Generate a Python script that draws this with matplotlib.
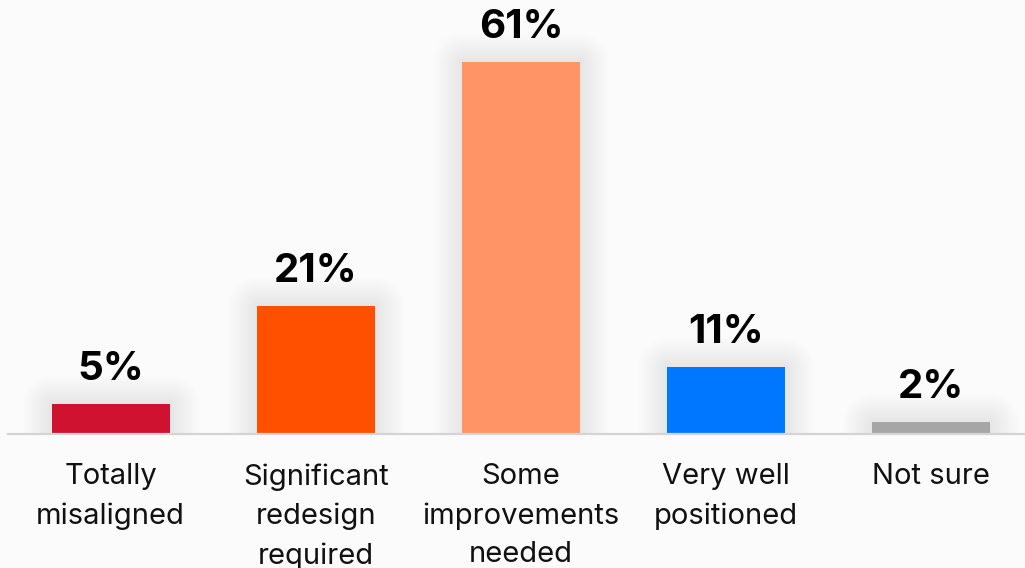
#! /usr/bin/env python3

"""
Bar chart of how well positioned respondents feel, share of answers per option.
"""
import matplotlib
matplotlib.use('Agg')
import matplotlib.pyplot as plt

categories = ['Totally\nmisaligned', 'Significant\nredesign\nrequired',
              'Some\nimprovements\nneeded', 'Very well\npositioned',
              'Not sure']
shares = [5, 21, 61, 11, 2]
bar_colors = ['#CE1230', '#FF5000', '#FF9467', '#0077FF', '#A6A6A6']

W, H = 1025, 568
BG = '#fbfbfb'


def main():
    plt.rcParams['font.family'] = ['Inter', 'DejaVu Sans']
    fig = plt.figure(figsize=(W / 100, H / 100), dpi=100, facecolor=BG)
    # axes run from the left edge of the baseline to the right edge of the
    # figure; the bottom of the axes is the baseline
    base_y = 434
    ax = fig.add_axes([8 / W, (H - base_y) / H, (W - 8) / W, base_y / H])
    ax.set_facecolor(BG)

    xs = list(range(len(shares)))
    width = 0.575

    # soft glow around each bar, built up from faint wide outlines
    for k in range(1, 22):
        ax.bar(xs, shares, width, facecolor='none', edgecolor='black',
               linewidth=2.0 * k, alpha=0.0055, joinstyle='round', zorder=1)
    bars = ax.bar(xs, shares, width, color=bar_colors, zorder=2)

    for b, v in zip(bars, shares):
        ax.annotate(f'{v}%', (b.get_x() + b.get_width() / 2, v),
                    xytext=(0, 17), textcoords='offset points',
                    ha='center', va='baseline', fontsize=29,
                    fontweight='bold', color='black')

    ax.set_xlim(-0.5, -0.5 + (W - 8) / 205.2)
    ax.set_ylim(0, base_y / 6.1)
    ax.set_xticks(xs)
    ax.set_xticklabels(categories, fontsize=21, linespacing=1.56,
                       color='#111111')
    ax.tick_params(axis='x', length=0, pad=21)
    ax.set_yticks([])
    for side in ['left', 'right', 'top']:
        ax.spines[side].set_visible(False)
    ax.spines['bottom'].set_color('#d4d4d4')
    ax.spines['bottom'].set_linewidth(1.6)
    ax.spines['bottom'].set_zorder(3)

    fig.savefig('out.png', dpi=100, facecolor=BG)


if __name__ == '__main__':
    main()
